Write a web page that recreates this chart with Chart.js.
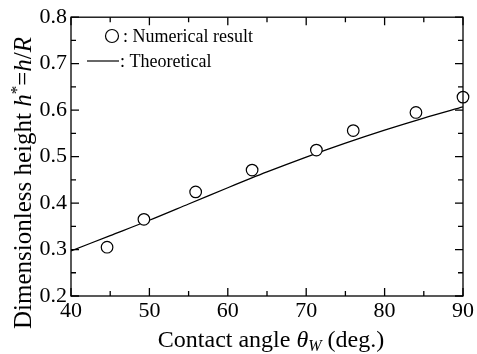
<!DOCTYPE html>
<html>
<head>
<meta charset="utf-8">
<script src="https://cdn.jsdelivr.net/npm/chart.js@4.4.1/dist/chart.umd.min.js"></script>
<style>
  html, body { margin: 0; padding: 0; background: #fff; }
  #wrap { width: 477px; height: 354px; }
</style>
</head>
<body>
<div id="wrap"><canvas id="chart"></canvas></div>
<script>
// Numerical result (open circles)
const thetaNum = [44.6, 49.3, 55.9, 63.1, 71.3, 76.0, 84.0, 90.0];
const hNum = [0.305, 0.365, 0.424, 0.471, 0.514, 0.556, 0.595, 0.628];

// Theoretical curve
const thetaTheory = [40, 45, 50, 55, 60, 65, 70, 75, 80, 85, 90];
const hTheory = [0.297, 0.330, 0.363, 0.398, 0.433, 0.467, 0.499, 0.529, 0.557, 0.583, 0.607];

// Axis ticks
const xTicks = [40, 50, 60, 70, 80, 90];
const yTicks = [0.2, 0.3, 0.4, 0.5, 0.6, 0.7, 0.8];

const serif = '"Liberation Serif", "Times New Roman", serif';

// Frame with inward major/minor ticks on all four sides, legend and axis titles
const framePlugin = {
    id: 'frame',
    afterDraw(chart) {
        const ctx = chart.ctx;
        const a = chart.chartArea;
        const xs = chart.scales.x, ys = chart.scales.y;
        ctx.save();
        ctx.strokeStyle = '#000';
        ctx.lineWidth = 1.3;
        ctx.strokeRect(a.left, a.top, a.right - a.left, a.bottom - a.top);
        ctx.beginPath();
        for (let v = 40; v <= 90.001; v += 5) {
            const px = xs.getPixelForValue(v);
            const len = (Math.round(v) % 10 === 0) ? 8 : 5;
            ctx.moveTo(px, a.bottom); ctx.lineTo(px, a.bottom - len);
            ctx.moveTo(px, a.top); ctx.lineTo(px, a.top + len);
        }
        for (let i = 0; i <= 12; i++) {
            const v = 0.2 + i * 0.05;
            const py = ys.getPixelForValue(v);
            const len = (i % 2 === 0) ? 8 : 5;
            ctx.moveTo(a.left, py); ctx.lineTo(a.left + len, py);
            ctx.moveTo(a.right, py); ctx.lineTo(a.right - len, py);
        }
        ctx.stroke();

        // Legend
        ctx.font = '18px ' + serif;
        ctx.textBaseline = 'middle';
        ctx.textAlign = 'left';
        ctx.beginPath();
        ctx.arc(112, 36, 6.5, 0, Math.PI * 2);
        ctx.fillStyle = '#fff';
        ctx.fill();
        ctx.lineWidth = 1.2;
        ctx.stroke();
        ctx.fillStyle = '#000';
        ctx.fillText(': Numerical result', 123, 37);
        ctx.beginPath();
        ctx.moveTo(87, 61); ctx.lineTo(119, 61);
        ctx.lineWidth = 1.2;
        ctx.stroke();
        ctx.fillText(': Theoretical', 120, 62);

        // X axis title: Contact angle θW (deg.)
        ctx.textBaseline = 'alphabetic';
        const parts = [
            ['24px ' + serif, 'Contact angle ', 0],
            ['italic 24px ' + serif, 'θ', 0],
            ['italic 16px ' + serif, 'W', 4],
            ['24px ' + serif, ' (deg.)', 0]
        ];
        drawParts(ctx, parts, 271, 347);

        // Y axis title: Dimensionless height h*=h/R
        ctx.save();
        ctx.translate(31, 183);
        ctx.rotate(-Math.PI / 2);
        const yparts = [
            ['25px ' + serif, 'Dimensionless height ', 0],
            ['italic 25px ' + serif, 'h', 0],
            ['17px ' + serif, '*', -9],
            ['25px ' + serif, '=', 0],
            ['italic 25px ' + serif, 'h', 0],
            ['25px ' + serif, '/', 0],
            ['italic 25px ' + serif, 'R', 0]
        ];
        drawParts(ctx, yparts, 0, 0);
        ctx.restore();
        ctx.restore();
    }
};

function drawParts(ctx, parts, cx, baseY) {
    let total = 0;
    parts.forEach(p => { ctx.font = p[0]; total += ctx.measureText(p[1]).width; });
    let x = cx - total / 2;
    ctx.textAlign = 'left';
    parts.forEach(p => {
        ctx.font = p[0];
        ctx.fillText(p[1], x, baseY + p[2]);
        x += ctx.measureText(p[1]).width;
    });
}

new Chart(document.getElementById('chart'), {
    type: 'scatter',
    data: {
        datasets: [
            {
                label: 'Theoretical',
                type: 'line',
                data: thetaTheory.map((t, i) => ({ x: t, y: hTheory[i] })),
                borderColor: '#000',
                borderWidth: 1.3,
                pointRadius: 0,
                fill: false,
                tension: 0.3,
                order: 2
            },
            {
                label: 'Numerical result',
                data: thetaNum.map((t, i) => ({ x: t, y: hNum[i] })),
                pointStyle: 'circle',
                pointRadius: 5.8,
                pointBorderWidth: 1.2,
                borderColor: '#000',
                backgroundColor: '#fff',
                clip: false,
                order: 1
            }
        ]
    },
    options: {
        responsive: true,
        maintainAspectRatio: false,
        animation: false,
        layout: { padding: { top: 16, right: 14, left: 0, bottom: 0 } },
        plugins: { legend: { display: false }, tooltip: { enabled: false } },
        scales: {
            x: {
                type: 'linear',
                min: 40, max: 90,
                afterFit: s => { s.height = 58; },
                afterBuildTicks: s => { s.ticks = xTicks.map(v => ({ value: v })); },
                grid: { display: false, drawTicks: false },
                border: { display: false },
                ticks: {
                    color: '#000',
                    padding: 2,
                    maxRotation: 0,
                    font: { family: serif, size: 22 }
                }
            },
            y: {
                type: 'linear',
                min: 0.2, max: 0.8,
                afterFit: s => { s.width = 71; },
                afterBuildTicks: s => { s.ticks = yTicks.map(v => ({ value: v })); },
                grid: { display: false, drawTicks: false },
                border: { display: false },
                ticks: {
                    color: '#000',
                    padding: 4,
                    callback: v => v.toFixed(1),
                    font: { family: serif, size: 22 }
                }
            }
        }
    },
    plugins: [framePlugin]
});
</script>
</body>
</html>
